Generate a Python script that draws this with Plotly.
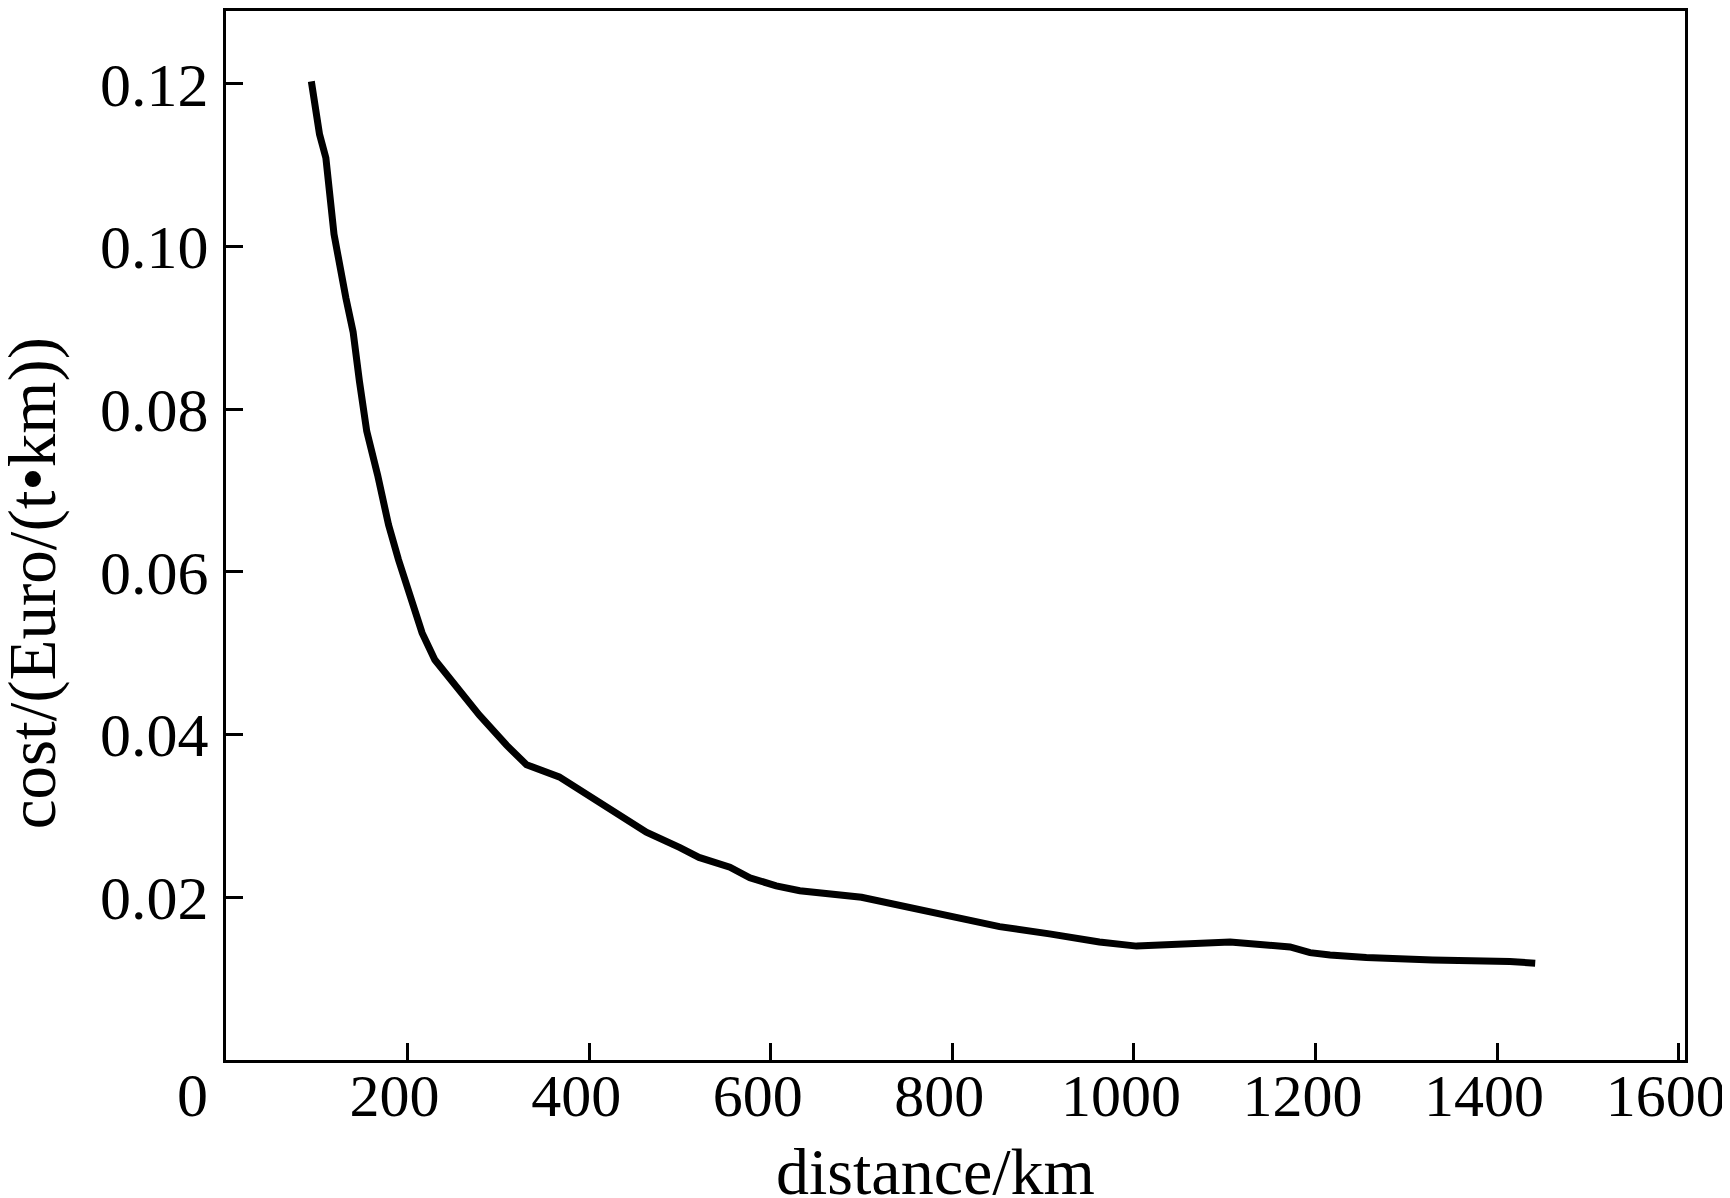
import plotly.graph_objects as go

distance_km = [94, 103, 110, 119, 132, 140, 147, 155, 167, 179, 190, 205, 216, 230,
               254, 279, 309, 331, 367, 389, 426, 463, 500, 521, 555, 577, 606, 632,
               700, 742, 797, 852, 907, 962, 1003, 1036, 1073, 1106, 1139, 1172, 1194,
               1216, 1256, 1293, 1329, 1414, 1442]
cost = [0.1203, 0.1138, 0.1109, 0.1015, 0.0937, 0.0895, 0.0834, 0.0773, 0.0719, 0.0658,
        0.0615, 0.0565, 0.0525, 0.0492, 0.0457, 0.0424, 0.0387, 0.0363, 0.0348, 0.0332,
        0.0305, 0.0280, 0.0261, 0.0249, 0.0237, 0.0224, 0.0214, 0.0208, 0.0200, 0.0190,
        0.0175, 0.0164, 0.0155, 0.0145, 0.0140, 0.0142, 0.0145, 0.0145, 0.0142, 0.0139,
        0.0132, 0.0129, 0.0126, 0.0124, 0.0123, 0.0121, 0.0119]

x_ticks = [200, 400, 600, 800, 1000, 1200, 1400, 1600]
x_tick_labels = ["200", "400", "600", "800", "1000", "1200", "1400", "1600"]
y_ticks = [0.02, 0.04, 0.06, 0.08, 0.10, 0.12]
y_tick_labels = ["0.02", "0.04", "0.06", "0.08", "0.10", "0.12"]

FONT = "Liberation Serif, Times New Roman, serif"

fig = go.Figure()
fig.add_trace(go.Scatter(x=distance_km, y=cost, mode="lines",
                         line=dict(color="black", width=7), showlegend=False))

axis_common = dict(showline=True, linecolor="black", linewidth=3, mirror=True,
                   ticks="inside", ticklen=17, tickwidth=3, tickcolor="black",
                   showgrid=False, zeroline=False, ticklabeloverflow="allow")

fig.update_xaxes(range=[0, 1607], tickmode="array", tickvals=x_ticks,
                 ticktext=x_tick_labels, ticklabelstandoff=-19, ticklabelshift=-13,
                 tickfont=dict(family=FONT, size=60, color="black"), **axis_common)
fig.update_yaxes(range=[0, 0.12895], tickmode="array", tickvals=y_ticks,
                 ticktext=y_tick_labels, ticklabelstandoff=2,
                 tickfont=dict(family=FONT, size=62, color="black"), **axis_common)

fig.update_layout(
    width=1730, height=1198,
    margin=dict(l=218, r=53, t=0, b=146),
    plot_bgcolor="white", paper_bgcolor="white",
    font=dict(family=FONT, color="black"),
    annotations=[
        dict(text="distance/km", xref="paper", yref="paper", x=0.4864, y=-0.106,
             xanchor="center", yanchor="middle", showarrow=False,
             font=dict(family=FONT, size=66, color="black")),
        dict(text="cost/(Euro/(t•km))", xref="paper", yref="paper", x=-0.133, y=0.4544,
             xanchor="center", yanchor="middle", textangle=-90, showarrow=False,
             font=dict(family=FONT, size=67, color="black")),
        dict(text="0", xref="paper", yref="paper", x=-0.0233, y=-0.0329,
             xanchor="center", yanchor="middle", showarrow=False,
             font=dict(family=FONT, size=62, color="black")),
    ],
)

fig.write_html("out.html")
